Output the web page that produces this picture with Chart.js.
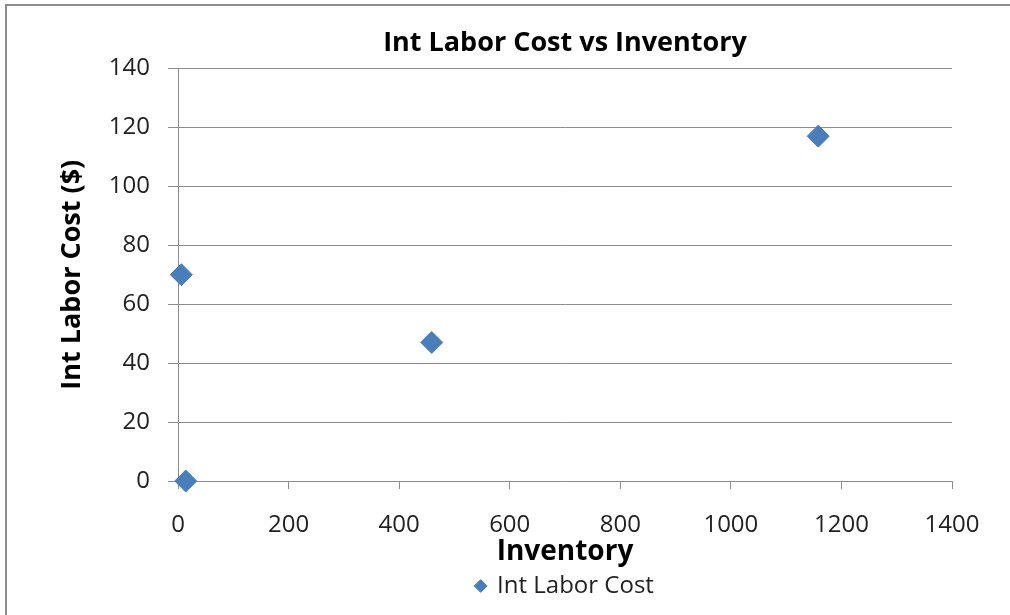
<!DOCTYPE html>
<html>
<head>
<meta charset="utf-8">
<title>Int Labor Cost vs Inventory</title>
<script src="https://cdn.jsdelivr.net/npm/chart.js@4.4.1/dist/chart.umd.min.js"></script>
<style>
    html, body { margin: 0; padding: 0; background: #fff; }
    #wrap { position: relative; width: 1010px; height: 615px; overflow: hidden; }
    #frame {
        position: absolute; left: 5px; top: 4px; width: 1100px; height: 700px;
        border-left: 2px solid #8c8c8c; border-top: 2px solid #8c8c8c;
        pointer-events: none;
    }
    canvas { position: absolute; left: 0; top: 0; }
</style>
</head>
<body>
<div id="wrap">
    <canvas id="chart" width="1010" height="615"></canvas>
    <div id="frame"></div>
</div>
<script>
// #region [01] Data
const seriesName = 'Int Labor Cost';
const inventory = [6, 14, 459, 1158];
const laborCost = [70, 0, 47, 117];
const xTicks = [0, 200, 400, 600, 800, 1000, 1200, 1400];
const yTicks = [0, 20, 40, 60, 80, 100, 120, 140];
// #endregion

// #region [02] Styling
const MARKER_BLUE = '#4a7ebb';
const GRID_GREY = '#8c8c8c';
const FONT = "'Open Sans', 'DejaVu Sans', sans-serif";
// #endregion

// #region [03] Chart
const points = inventory.map((x, i) => ({ x: x, y: laborCost[i] }));

new Chart(document.getElementById('chart'), {
    type: 'scatter',
    data: {
        datasets: [{
            label: seriesName,
            data: points,
            clip: false,
            pointStyle: 'rectRot',
            pointRadius: 11,
            pointHoverRadius: 11,
            backgroundColor: MARKER_BLUE,
            borderColor: MARKER_BLUE,
            borderWidth: 1
        }]
    },
    options: {
        responsive: false,
        animation: false,
        layout: { padding: { left: 0, right: 58, top: 0, bottom: 7 } },
        plugins: {
            title: {
                display: true,
                fullSize: false,
                text: 'Int Labor Cost vs Inventory',
                color: '#000',
                font: { family: FONT, size: 27, weight: 'bold' },
                padding: { top: 27, bottom: 9 }
            },
            legend: {
                position: 'bottom',
                fullSize: false,
                labels: {
                    usePointStyle: true,
                    pointStyle: 'rectRot',
                    boxWidth: 9,
                    boxHeight: 9,
                    color: '#222',
                    font: { family: FONT, size: 24 },
                    padding: 4
                }
            },
            tooltip: { enabled: false }
        },
        scales: {
            x: {
                type: 'linear',
                min: xTicks[0],
                max: xTicks[xTicks.length - 1],
                afterBuildTicks: (scale) => { scale.ticks = xTicks.map(v => ({ value: v })); },
                afterFit: (scale) => { scale.height = 89; },
                grid: { drawOnChartArea: false, drawTicks: true, tickLength: 8, color: GRID_GREY },
                border: { color: GRID_GREY, width: 1 },
                ticks: {
                    color: '#222', padding: 22,
                    font: { family: FONT, size: 24 },
                    callback: (v) => String(v)
                },
                title: {
                    display: true,
                    text: 'Inventory',
                    color: '#000',
                    font: { family: FONT, size: 28, weight: 'bold' },
                    padding: { top: 0, bottom: 1 }
                }
            },
            y: {
                type: 'linear',
                min: yTicks[0],
                max: yTicks[yTicks.length - 1],
                afterBuildTicks: (scale) => { scale.ticks = yTicks.map(v => ({ value: v })); },
                afterFit: (scale) => { scale.width = 178; },
                grid: { color: GRID_GREY, tickLength: 10 },
                border: { color: GRID_GREY, width: 1 },
                ticks: {
                    color: '#222', padding: 18,
                    font: { family: FONT, size: 24 },
                    callback: (v) => String(v)
                },
                title: {
                    display: true,
                    text: 'Int Labor Cost ($)',
                    color: '#000',
                    font: { family: FONT, size: 27, weight: 'bold' },
                    padding: { top: 56, bottom: 0 }
                }
            }
        }
    }
});
// #endregion
</script>
</body>
</html>
